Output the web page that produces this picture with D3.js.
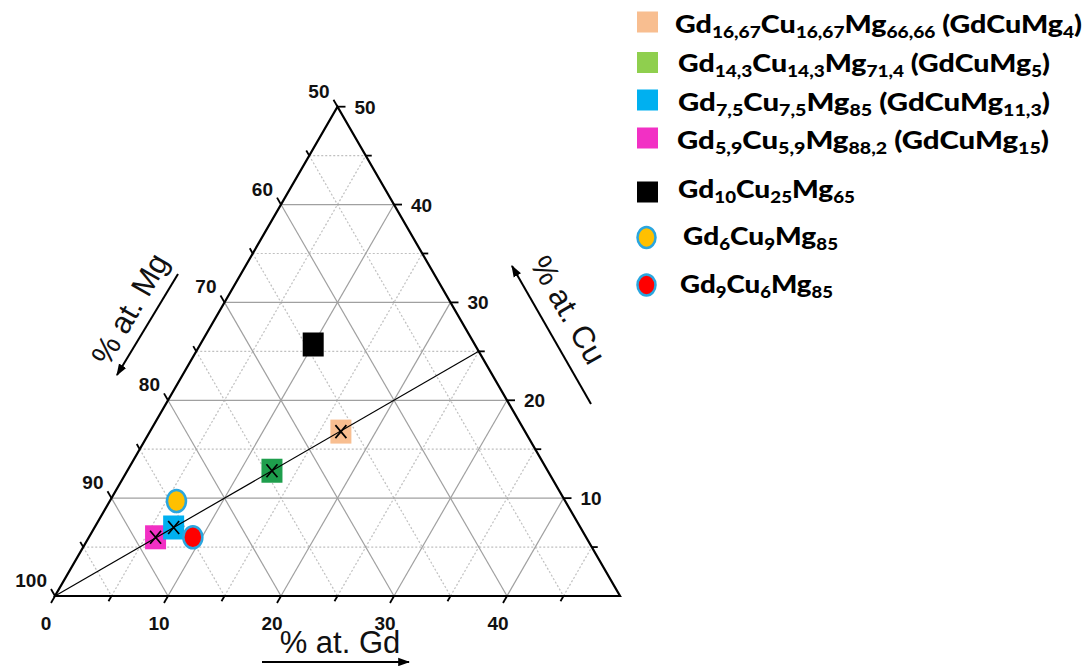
<!DOCTYPE html>
<html>
<head>
<meta charset="utf-8">
<script src="https://cdn.jsdelivr.net/npm/d3@7"></script>
<style>
  html, body { margin: 0; padding: 0; background: #fff; }
  svg { display: block; }
</style>
</head>
<body>
<svg id="chart" width="1088" height="666"></svg>
<script>
// ---------- data ----------
const labels = [
  "Gd_{16,67}Cu_{16,67}Mg_{66,66} (GdCuMg_{4})",
  "Gd_{14,3}Cu_{14,3}Mg_{71,4} (GdCuMg_{5})",
  "Gd_{7,5}Cu_{7,5}Mg_{85} (GdCuMg_{11,3})",
  "Gd_{5,9}Cu_{5,9}Mg_{88,2} (GdCuMg_{15})",
  "Gd_{10}Cu_{25}Mg_{65}",
  "Gd_{6}Cu_{9}Mg_{85}",
  "Gd_{9}Cu_{6}Mg_{85}"
];
// at.% positions as plotted in the picture
const gdValues = [16.9, 12.8, 7.0, 5.9, 10.0, 5.9, 9.2];
const cuValues = [16.8, 12.8, 7.0, 6.0, 25.7, 9.7, 6.0];
const shapes   = ["square", "square", "square", "square", "square", "circle", "circle"];
const plotColors   = ["#F8BE90", "#1E9E4C", "#00B0F0", "#F230C4", "#000000", "#FFC000", "#FF0000"];
const legendColors = ["#F8BE90", "#8FCF4E", "#00B0F0", "#F230C4", "#000000", "#FFC000", "#FF0000"];
const crossed = [true, true, true, true, false, false, false];
const gdTicks = [0, 10, 20, 30, 40];
const cuTicks = [10, 20, 30, 40, 50];
const mgTicks = [50, 60, 70, 80, 90, 100];
const majorGrid = [10, 20, 30, 40];
const minorGrid = [5, 15, 25, 35, 45];
const lineEnd = [25, 25]; // Gd, Cu end of the stoichiometric line on the Mg=50 edge

// ---------- layout ----------
const svg = d3.select("#chart");
const side = 565, x0 = 55, y0 = 596;
const h = side * Math.sqrt(3) / 2;
const gx = d3.scaleLinear().domain([0, 50]).range([x0, x0 + side]);
const gy = d3.scaleLinear().domain([0, 50]).range([y0, y0 - h]);
const proj = (gd, cu) => [gx(gd + cu / 2), gy(cu)];
const line = d3.line();

// grid
const gridG = svg.append("g");
function gridLines(vals, cls) {
  vals.forEach(v => {
    const segs = [
      [proj(0, v), proj(50 - v, v)],     // constant Cu
      [proj(v, 0), proj(v, 50 - v)],     // constant Gd
      [proj(0, v), proj(v, 0)]           // constant Mg (Gd+Cu = v)
    ];
    segs.forEach(s => {
      const p = gridG.append("path").attr("d", line(s)).attr("fill", "none");
      if (cls === "major") p.attr("stroke", "#a0a0a0").attr("stroke-width", 1.2);
      else p.attr("stroke", "#c0c0c0").attr("stroke-width", 1.2).attr("stroke-dasharray", "2,2");
    });
  });
}
gridLines(minorGrid, "minor");
gridLines(majorGrid, "major");

// frame
svg.append("path")
  .attr("d", line([proj(0, 0), proj(50, 0), proj(0, 50)]) + "Z")
  .attr("fill", "none").attr("stroke", "#000").attr("stroke-width", 2.2)
  .attr("stroke-linejoin", "miter");

// ticks
const tickG = svg.append("g").attr("stroke", "#000").attr("stroke-width", 1.8);
const allSteps = d3.range(0, 51, 5);
const c60 = 0.5, s60 = Math.sqrt(3) / 2;
allSteps.forEach(v => {
  const L = v % 10 === 0 ? 8 : 6;
  let p = proj(v, 0);
  if (v < 50) tickG.append("line").attr("x1", p[0]).attr("y1", p[1]).attr("x2", p[0] - c60 * L).attr("y2", p[1] + s60 * L);
  p = proj(0, v);
  tickG.append("line").attr("x1", p[0]).attr("y1", p[1]).attr("x2", p[0] - c60 * L).attr("y2", p[1] - s60 * L);
  p = proj(50 - v, v);
  if (v > 0) tickG.append("line").attr("x1", p[0]).attr("y1", p[1]).attr("x2", p[0] + L).attr("y2", p[1]);
});

// tick labels
const tlFont = "'Liberation Sans', Arial, sans-serif";
const tl = svg.append("g").attr("font-family", tlFont).attr("font-weight", "bold").attr("font-size", 19).attr("fill", "#111");
gdTicks.forEach(v => {
  const p = proj(v, 0);
  tl.append("text").attr("x", p[0] - 9).attr("y", p[1] + 34).attr("text-anchor", "middle").text(v);
});
mgTicks.forEach(m => {
  const p = proj(0, 100 - m);
  tl.append("text").attr("x", p[0] - 8).attr("y", p[1] - 9).attr("text-anchor", "end").text(m);
});
cuTicks.forEach(c => {
  const p = proj(50 - c, c);
  tl.append("text").attr("x", p[0] + 17).attr("y", p[1] + 7).attr("text-anchor", "start").text(c);
});

// axis titles & arrows
const defs = svg.append("defs");
defs.append("marker").attr("id", "ah").attr("viewBox", "0 0 10 10").attr("refX", 9).attr("refY", 5)
  .attr("markerWidth", 12).attr("markerHeight", 12).attr("orient", "auto").attr("markerUnits", "userSpaceOnUse")
  .append("path").attr("d", "M0,1.5 L10,5 L0,8.5 Z").attr("fill", "#000");

const tt = svg.append("g").attr("font-family", tlFont).attr("font-size", 31).attr("fill", "#111");
tt.append("text").attr("x", 340).attr("y", 653).attr("text-anchor", "middle").text("% at. Gd");
svg.append("line").attr("x1", 262).attr("y1", 662).attr("x2", 409).attr("y2", 662)
  .attr("stroke", "#000").attr("stroke-width", 2).attr("marker-end", "url(#ah)");

tt.append("text").attr("transform", "translate(130,309) rotate(-60)").attr("text-anchor", "middle")
  .attr("dominant-baseline", "central").text("% at. Mg");
svg.append("line").attr("x1", 178).attr("y1", 274).attr("x2", 117).attr("y2", 375)
  .attr("stroke", "#000").attr("stroke-width", 2).attr("marker-end", "url(#ah)");

tt.append("text").attr("transform", "translate(568,310) rotate(60)").attr("text-anchor", "middle")
  .attr("dominant-baseline", "central").text("% at. Cu");
svg.append("line").attr("x1", 591).attr("y1", 404).attr("x2", 512).attr("y2", 266)
  .attr("stroke", "#000").attr("stroke-width", 2).attr("marker-end", "url(#ah)");

// markers
const order = [4, 0, 1, 3, 2, 5, 6];
const mk = svg.append("g");
order.forEach(i => {
  const p = proj(gdValues[i], cuValues[i]);
  if (shapes[i] === "square") {
    mk.append("rect").attr("x", p[0] - 10.5).attr("y", p[1] - 12).attr("width", 21).attr("height", 24)
      .attr("fill", plotColors[i]);
  } else {
    mk.append("ellipse").attr("cx", p[0]).attr("cy", p[1]).attr("rx", 9.5).attr("ry", 11)
      .attr("fill", plotColors[i]).attr("stroke", "#2AA6DF").attr("stroke-width", 2.5);
  }
});
// stoichiometric line, drawn over the squares
svg.append("path").attr("d", line([proj(0, 0), proj(lineEnd[0], lineEnd[1])]))
  .attr("stroke", "#000").attr("stroke-width", 1.2).attr("fill", "none");
order.forEach(i => {
  if (!crossed[i]) return;
  const p = proj(gdValues[i], cuValues[i]);
  const a = 5.5, b = 6.5;
  mk.append("path").attr("d", `M${p[0]-a},${p[1]-b}L${p[0]+a},${p[1]+b}M${p[0]+a},${p[1]-b}L${p[0]-a},${p[1]+b}`)
    .attr("stroke", "#000").attr("stroke-width", 1.7).attr("fill", "none");
});

// legend
const lgX = [675, 678, 678, 677, 678, 683, 680];
const lgY = [33, 72, 111, 149, 198, 245, 293];
const swY = [22, 62.5, 100, 138, 192, 237.5, 285];
const lgW = [407, 372, 372, 372, 177, 155, 153];
const lg = svg.append("g");
labels.forEach((lab, i) => {
  if (shapes[i] === "square") {
    lg.append("rect").attr("x", 637).attr("y", swY[i] - 10.5).attr("width", 21).attr("height", 21).attr("fill", legendColors[i]);
  } else {
    lg.append("ellipse").attr("cx", 646.5).attr("cy", swY[i]).attr("rx", 9).attr("ry", 10.5)
      .attr("fill", legendColors[i]).attr("stroke", "#2AA6DF").attr("stroke-width", 2.5);
  }
  const t = lg.append("text").attr("x", lgX[i]).attr("y", lgY[i])
    .attr("font-family", "Lato, 'Open Sans', sans-serif").attr("font-weight", "900")
    .attr("font-size", 24).attr("fill", "#000");
  const parts = lab.split(/(_\{[^}]*\})/).filter(s => s.length);
  let shift = 0;
  parts.forEach(s => {
    if (s.startsWith("_{")) {
      t.append("tspan").attr("font-size", 16).attr("dy", 5 - shift).text(s.slice(2, -1));
      shift = 5;
    } else {
      t.append("tspan").attr("dy", -shift).text(s);
      shift = 0;
    }
  });
  t.attr("textLength", lgW[i]).attr("lengthAdjust", "spacingAndGlyphs");
});
</script>
</body>
</html>
